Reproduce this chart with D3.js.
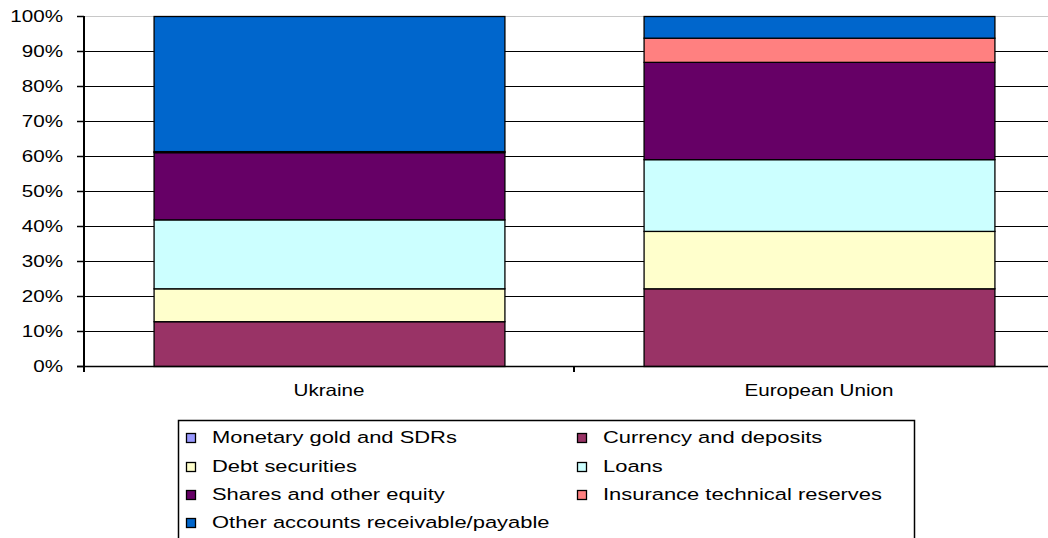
<!DOCTYPE html>
<html>
<head>
<meta charset="utf-8">
<script src="https://cdn.jsdelivr.net/npm/d3@7"></script>
<style>
  html, body { margin: 0; padding: 0; background: #fff; }
  svg { display: block; }
  text { font-family: "Liberation Sans", Arial, sans-serif; fill: #000; }
</style>
</head>
<body>
<svg id="chart" width="1048" height="538"></svg>
<script>
// ---- data ----
const categories = ["Ukraine", "European Union"];
const seriesNames = [
  "Monetary gold and SDRs",
  "Currency and deposits",
  "Debt securities",
  "Loans",
  "Shares and other equity",
  "Insurance technical reserves",
  "Other accounts receivable/payable"
];
const seriesColors = ["#9999FF", "#993366", "#FFFFCC", "#CCFFFF", "#660066", "#FF8080", "#0066CC"];
// values in percent, per category (Ukraine, European Union)
const monetaryGold = [0, 0];
const currencyDeposits = [12.8, 22.2];
const debtSecurities = [9.4, 16.4];
const loans = [19.7, 20.5];
const sharesEquity = [19.2, 27.8];
const insuranceReserves = [0.3, 6.9];
const otherAccounts = [38.6, 6.2];
const yTicks = [0, 10, 20, 30, 40, 50, 60, 70, 80, 90, 100];

const seriesValues = [monetaryGold, currencyDeposits, debtSecurities, loans, sharesEquity, insuranceReserves, otherAccounts];

// ---- layout ----
const svg = d3.select("#chart");
const plotLeft = 84, plotRight = 1064, plotTop = 16, plotBottom = 366;
const SX = 1.25;  // horizontal text stretch of the original picture (axis)
const SXL = 1.29; // legend

const x = d3.scaleBand().domain(categories).range([plotLeft, plotRight])
  .paddingInner(0.284).paddingOuter(0.142);
const y = d3.scaleLinear().domain([0, 100]).range([plotBottom, plotTop]);

const table = categories.map((c, i) => {
  const row = { cat: c };
  seriesNames.forEach((s, j) => row[s] = seriesValues[j][i]);
  return row;
});
const stacked = d3.stack().keys(seriesNames)(table);

// gridlines
svg.append("g").selectAll("line").data(yTicks.filter(t => t > 0)).join("line")
  .attr("x1", plotLeft).attr("x2", 1048)
  .attr("y1", d => y(d) + 0.5).attr("y2", d => y(d) + 0.5)
  .attr("stroke", d => d === 100 ? "#c8c8c8" : "#000")
  .attr("stroke-width", 1.2);

// bars
const g = svg.append("g");
stacked.forEach((layer, j) => {
  g.selectAll(null).data(layer).join("rect")
    .attr("x", d => x(d.data.cat) + 0.5)
    .attr("y", d => y(d[1]) + 0.5)
    .attr("width", x.bandwidth())
    .attr("height", d => Math.max(0, y(d[0]) - y(d[1])))
    .attr("fill", seriesColors[j])
    .attr("stroke", "#000")
    .attr("stroke-width", d => (d[1] - d[0]) > 0 ? 1.3 : 0);
});

// y axis line
svg.append("line").attr("x1", plotLeft).attr("x2", plotLeft)
  .attr("y1", plotTop).attr("y2", plotBottom + 1)
  .attr("stroke", "#000").attr("stroke-width", 2);
const yAxis = svg.append("g");
yAxis.selectAll("line").data(yTicks).join("line")
  .attr("x1", 77).attr("x2", plotLeft)
  .attr("y1", d => y(d) + 0.5).attr("y2", d => y(d) + 0.5)
  .attr("stroke", "#000").attr("stroke-width", 1.5);
yAxis.selectAll("text").data(yTicks).join("text")
  .attr("transform", d => `translate(63,${y(d) + 6}) scale(${SX},1)`)
  .attr("text-anchor", "end")
  .attr("font-size", 16.5)
  .text(d => d + "%");

// x axis
svg.append("line").attr("x1", 77).attr("x2", 1048)
  .attr("y1", plotBottom + 0.5).attr("y2", plotBottom + 0.5)
  .attr("stroke", "#000").attr("stroke-width", 1.5);
const step = x.step();
const boundaries = [x(categories[0]) - step * x.paddingOuter()].concat(
  categories.map(c => x(c) + x.bandwidth() / 2 + step / 2));
svg.append("g").selectAll("line").data(boundaries).join("line")
  .attr("x1", d => d).attr("x2", d => d)
  .attr("y1", plotBottom).attr("y2", plotBottom + 6)
  .attr("stroke", "#000").attr("stroke-width", 2);
svg.append("g").selectAll("text").data(categories).join("text")
  .attr("transform", d => `translate(${x(d) + x.bandwidth() / 2},396) scale(${SX},1)`)
  .attr("text-anchor", "middle")
  .attr("font-size", 16.5)
  .text(d => d);

// legend
const legend = svg.append("g");
legend.append("rect").attr("x", 178.5).attr("y", 420.5).attr("width", 736).attr("height", 130)
  .attr("fill", "#fff").attr("stroke", "#000").attr("stroke-width", 1.5);
const colX = [186, 577];
const rowBase = [443, 472, 500, 528];
seriesNames.forEach((s, i) => {
  const cx = colX[i % 2], by = rowBase[Math.floor(i / 2)];
  legend.append("rect").attr("x", cx + 0.5).attr("y", by - 10 + 0.5)
    .attr("width", 9).attr("height", 9)
    .attr("fill", seriesColors[i]).attr("stroke", "#000").attr("stroke-width", 1.3);
  legend.append("text")
    .attr("transform", `translate(${cx + 26},${by}) scale(${SXL},1)`)
    .attr("font-size", 17)
    .text(s);
});
</script>
</body>
</html>
